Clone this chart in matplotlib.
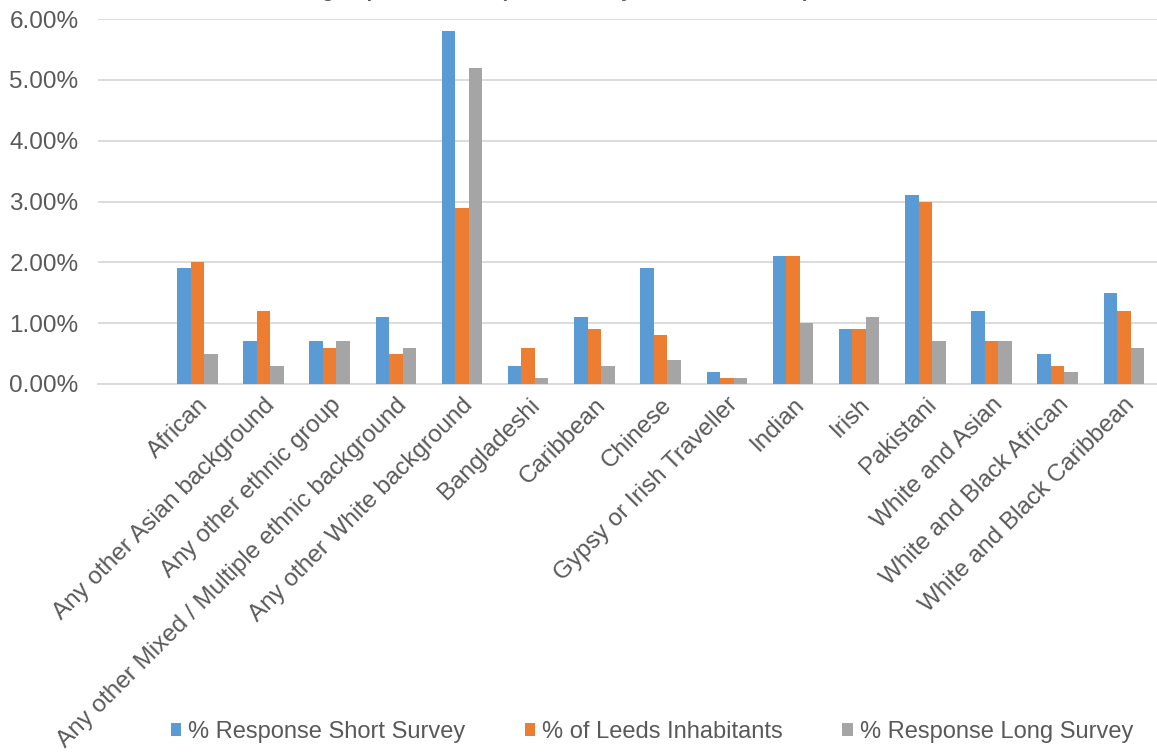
"""Ethnic group distribution bar chart (short survey vs Leeds census vs long survey)."""
import matplotlib
matplotlib.use('Agg')
import matplotlib.pyplot as plt
from matplotlib.patches import Patch
from matplotlib.ticker import FuncFormatter
import numpy


##########################
##  Data                ##
##########################
CATEGORIES = [
    'African',
    'Any other Asian background',
    'Any other ethnic group',
    'Any other Mixed / Multiple ethnic background',
    'Any other White background',
    'Bangladeshi',
    'Caribbean',
    'Chinese',
    'Gypsy or Irish Traveller',
    'Indian',
    'Irish',
    'Pakistani',
    'White and Asian',
    'White and Black African',
    'White and Black Caribbean',
]
SHORT_SURVEY = [1.9, 0.7, 0.7, 1.1, 5.8, 0.3, 1.1, 1.9, 0.2, 2.1, 0.9, 3.1, 1.2, 0.5, 1.5]
LEEDS = [2.0, 1.2, 0.6, 0.5, 2.9, 0.6, 0.9, 0.8, 0.1, 2.1, 0.9, 3.0, 0.7, 0.3, 1.2]
LONG_SURVEY = [0.5, 0.3, 0.7, 0.6, 5.2, 0.1, 0.3, 0.4, 0.1, 1.0, 1.1, 0.7, 0.7, 0.2, 0.6]

SERIES_NAMES = ['% Response Short Survey', '% of Leeds Inhabitants', '% Response Long Survey']
SERIES_COLORS = ['#5B9BD5', '#ED7D31', '#A5A5A5']
TITLE = 'Ethnic group distribution (Short Survey vs Leeds Census)'

TEXT_COLOR = '#595959'
GRID_COLOR = '#D9D9D9'
FONT = ['Liberation Sans', 'DejaVu Sans']


##########################
##  Plot                ##
##########################
def main() -> None:
    plt.rcParams['font.family'] = FONT
    W, H = 1157, 753
    fig = plt.figure(figsize=(W / 100, H / 100), dpi=100)
    ax = fig.add_axes((98 / W, (H - 384) / H, (W - 98) / W, (384 - 19) / H))

    x = numpy.arange(len(CATEGORIES))
    width = 0.204
    for i, (vals, name, color) in enumerate(zip([SHORT_SURVEY, LEEDS, LONG_SURVEY],
                                                  SERIES_NAMES, SERIES_COLORS)):
        ax.bar(x + (i - 1) * width, vals, width, color=color, label=name, zorder=3)

    ax.set_xlim(-1.5, len(CATEGORIES) - 0.5)
    ax.set_ylim(0, 6.0)
    ax.set_yticks(numpy.arange(0, 6.01, 1.0))
    ax.yaxis.set_major_formatter(FuncFormatter(lambda v, _p: f'{v:.2f}%'))
    ax.grid(axis='y', color=GRID_COLOR, linewidth=1.3, zorder=0)
    for side in ['top', 'right', 'left']:
        ax.spines[side].set_visible(False)
    ax.spines['bottom'].set_color(GRID_COLOR)
    ax.spines['bottom'].set_linewidth(1.3)
    ax.tick_params(axis='y', length=0, pad=14, labelsize=17.5, labelcolor=TEXT_COLOR)
    ax.tick_params(axis='x', length=0, pad=7, labelsize=17.5, labelcolor=TEXT_COLOR)
    ax.set_xticks(x)
    ax.set_xticklabels(CATEGORIES, rotation=45, ha='right', rotation_mode='anchor')

    # title is mostly cut off at the top edge in the original
    fig.text(255 / W, 1 + 3 / H, TITLE, fontsize=14.5, fontweight='bold',
             color=TEXT_COLOR, ha='left', va='baseline')

    handles = [Patch(facecolor=c, edgecolor='none', label=n)
               for c, n in zip(SERIES_COLORS, SERIES_NAMES)]
    fig.legend(handles=handles, loc='center', ncol=3, frameon=False,
               bbox_to_anchor=(652 / W, 21 / H), fontsize=17,
               handlelength=0.45, handleheight=0.45, handletextpad=0.3,
               columnspacing=2.5, labelcolor=TEXT_COLOR)

    fig.savefig('out.png', dpi=100)
    plt.close(fig)


if __name__ == '__main__':
    main()
